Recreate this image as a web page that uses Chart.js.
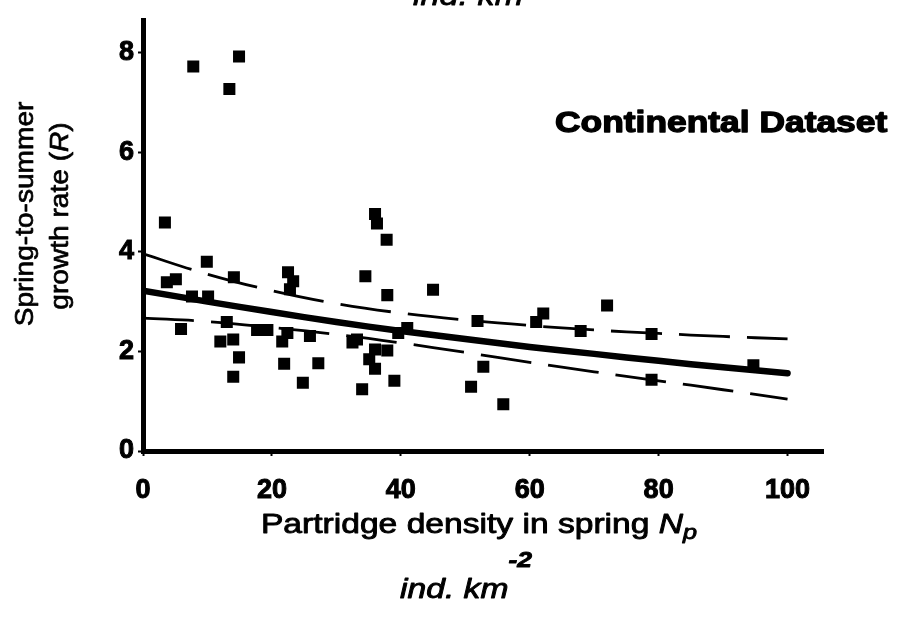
<!DOCTYPE html>
<html>
<head>
<meta charset="utf-8">
<script src="https://cdn.jsdelivr.net/npm/chart.js@4/dist/chart.umd.min.js"></script>
<style>
  html, body { margin: 0; background: #fff; }
  #wrap { width: 900px; height: 624px; position: relative; }
</style>
</head>
<body>
<div id="wrap"><canvas id="chart" width="900" height="624"></canvas></div>
<script>
// ---- DATA ----
const densityNp = [3.4, 3.7, 5.1, 7.6, 7.8, 9.9, 10.1, 5.9, 13.4, 14.9, 14.1, 13.0, 12.0, 14.0,
    14.9, 14.0, 17.7, 19.3, 22.5, 23.3, 22.8, 22.4, 21.6, 21.9, 25.9, 27.2, 24.8, 32.5, 33.2,
    34.5, 34.0, 35.1, 36.0, 36.0, 37.9, 36.0, 36.3, 37.8, 37.9, 39.0, 39.6, 41.0, 45.0, 51.9,
    50.9, 52.8, 55.9, 61.0, 62.1, 67.9, 72.0, 78.9, 78.9, 94.7];
const growthR = [4.59, 3.39, 3.45, 3.10, 7.72, 3.80, 3.10, 2.45, 7.27, 7.92, 3.49, 2.59, 2.20, 2.24,
    1.88, 1.49, 2.43, 2.43, 3.59, 3.41, 3.25, 2.37, 2.20, 1.75, 2.31, 1.76, 1.37, 2.18, 2.24,
    3.51, 1.24, 1.84, 1.65, 2.04, 2.02, 4.76, 4.57, 4.24, 3.13, 1.41, 2.37, 2.47, 3.24, 2.61,
    1.29, 1.69, 0.94, 2.59, 2.76, 2.41, 2.92, 2.35, 1.43, 1.72];

const curveX  = [0, 10, 20, 30, 40, 50, 60, 70, 80, 90, 100];
const fitR    = [3.22, 3.00, 2.79, 2.59, 2.41, 2.25, 2.09, 1.95, 1.81, 1.68, 1.56];
const upperR  = [3.96, 3.55, 3.22, 2.96, 2.77, 2.63, 2.52, 2.43, 2.36, 2.30, 2.25];
const lowerR  = [2.67, 2.60, 2.48, 2.34, 2.17, 1.98, 1.78, 1.59, 1.41, 1.23, 1.04];

const xTicks = [0, 20, 40, 60, 80, 100];
const yTicks = [0, 2, 4, 6, 8];

const pts = (xs, ys) => xs.map((x, i) => ({ x, y: ys[i] }));

// ---- TEXT HELPERS ----
const FAM = '"Liberation Sans", Arial, sans-serif';

// draws a row of differently styled text runs; sx stretches along the text, sw thickens strokes
function runs(ctx, list, x, y, sx, align, sw, angle) {
    let w = 0;
    list.forEach(r => { ctx.font = r.font; r.w = ctx.measureText(r.t).width; w += r.w; });
    ctx.save();
    ctx.translate(x, y);
    if (angle) ctx.rotate(angle);
    ctx.scale(sx, 1);
    ctx.fillStyle = '#000';
    ctx.strokeStyle = '#000';
    ctx.lineWidth = sw;
    ctx.lineJoin = 'round';
    ctx.textBaseline = 'alphabetic';
    ctx.textAlign = 'left';
    let cx = align === 'center' ? -w / 2 : 0;
    list.forEach(r => {
        ctx.font = r.font;
        ctx.fillText(r.t, cx, r.dy || 0);
        if (sw) ctx.strokeText(r.t, cx, r.dy || 0);
        cx += r.w;
    });
    ctx.restore();
}

const labels = {
    id: 'labels',
    afterDraw(chart) {
        const ctx = chart.ctx;
        // cut-off unit label from the panel above
        runs(ctx, [{ t: 'ind. km', font: `italic 28px ${FAM}` }], 413, 5, 1.22, 'left', 0.8);
        // panel title
        runs(ctx, [{ t: 'Continental Dataset', font: `bold 29px ${FAM}` }], 555, 132, 1.22, 'left', 1.3);
        // x axis title
        runs(ctx, [
            { t: 'Partridge density in spring ', font: `28px ${FAM}` },
            { t: 'N', font: `italic 28px ${FAM}` },
            { t: 'p', font: `italic 21px ${FAM}`, dy: 6 },
        ], 479, 533, 1.2, 'center', 0.9);
        runs(ctx, [
            { t: 'ind. km', font: `italic 28px ${FAM}` },
            { t: '-2', font: `italic bold 22px ${FAM}`, dy: -31 },
        ], 466, 598, 1.2, 'center', 0.9);
        // y axis title (two lines)
        runs(ctx, [{ t: 'Spring-to-summer', font: `26px ${FAM}` }], 33, 214, 1.08, 'center', 0.7, -Math.PI / 2);
        runs(ctx, [
            { t: 'growth rate (', font: `26px ${FAM}` },
            { t: 'R', font: `italic 26px ${FAM}` },
            { t: ')', font: `26px ${FAM}` },
        ], 68, 216, 1.08, 'center', 0.7, -Math.PI / 2);
    }
};

// ---- CHART ----
const tickFont = { family: FAM, size: 27, weight: 'bold' };

new Chart(document.getElementById('chart'), {
    type: 'scatter',
    data: {
        datasets: [
            { data: pts(densityNp, growthR), pointStyle: 'rect', pointRadius: 8.5,
              backgroundColor: '#000', borderColor: '#000', borderWidth: 0 },
            { data: pts(curveX, fitR), showLine: true, pointRadius: 0, borderColor: '#000',
              borderWidth: 6.5, tension: 0.4, borderCapStyle: 'round' },
            { data: pts(curveX, upperR), showLine: true, pointRadius: 0, borderColor: '#000',
              borderWidth: 2.8, borderDash: [51, 17], tension: 0.4 },
            { data: pts(curveX, lowerR), showLine: true, pointRadius: 0, borderColor: '#000',
              borderWidth: 2.8, borderDash: [51, 17], tension: 0.4 },
        ],
    },
    options: {
        responsive: false, animation: false,
        layout: { padding: { top: 10, right: 77, left: 0, bottom: 0 } },
        plugins: { legend: { display: false }, tooltip: { enabled: false } },
        scales: {
            x: {
                type: 'linear', min: 0, max: 105.5,
                afterBuildTicks: s => { s.ticks = xTicks.map(v => ({ value: v })); },
                afterFit: s => { s.height = 173; },
                grid: { drawOnChartArea: false, drawTicks: true, tickLength: 5, tickWidth: 2, color: '#000' },
                border: { display: true, color: '#000', width: 5 },
                ticks: { color: '#000', font: tickFont, padding: 18, maxRotation: 0,
                         textStrokeColor: '#000', textStrokeWidth: 1 },
            },
            y: {
                type: 'linear', min: 0, max: 8.65,
                afterBuildTicks: s => { s.ticks = yTicks.map(v => ({ value: v })); },
                afterFit: s => { s.width = 143; },
                grid: { drawOnChartArea: false, drawTicks: true, tickLength: 5, tickWidth: 2, color: '#000' },
                border: { display: true, color: '#000', width: 5 },
                ticks: { color: '#000', font: tickFont, padding: 4,
                         textStrokeColor: '#000', textStrokeWidth: 1 },
            },
        },
    },
    plugins: [labels],
});
</script>
</body>
</html>
